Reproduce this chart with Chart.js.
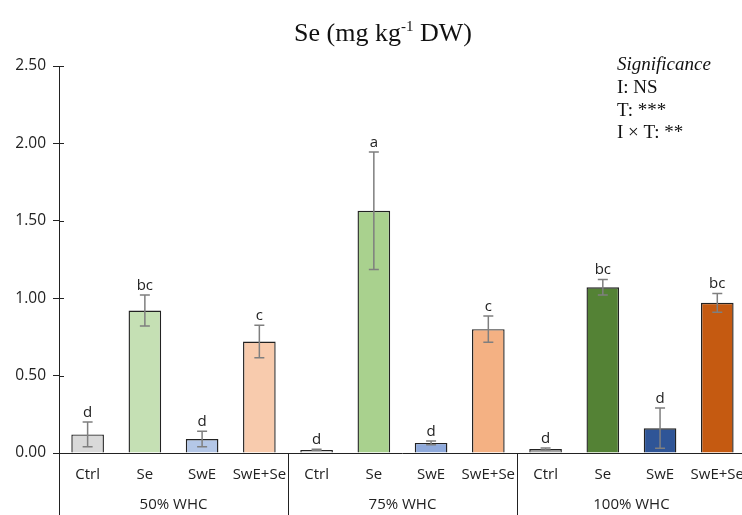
<!DOCTYPE html>
<html>
<head>
<meta charset="utf-8">
<script src="https://cdn.jsdelivr.net/npm/chart.js@4/dist/chart.umd.min.js"></script>
<style>
  html, body { margin: 0; padding: 0; background: #fff; overflow: hidden; }
  #wrap { width: 749px; height: 515px; position: relative; }
</style>
</head>
<body>
<div id="wrap"><canvas id="seChart"></canvas></div>
<script>
const groups = ['50% WHC', '75% WHC', '100% WHC'];
const treatments = ['Ctrl', 'Se', 'SwE', 'SwE+Se'];
const seMeans = [0.12, 0.92, 0.09, 0.72, 0.02, 1.565, 0.065, 0.80, 0.026, 1.07, 0.16, 0.97];
const seErrors = [0.08, 0.10, 0.05, 0.105, 0.004, 0.38, 0.012, 0.085, 0.006, 0.05, 0.13, 0.06];
const letters = ['d', 'bc', 'd', 'c', 'd', 'a', 'd', 'c', 'd', 'bc', 'd', 'bc'];
const yTicks = [0, 0.5, 1, 1.5, 2, 2.5];
const significance = ['I: NS', 'T: ***', 'I \u00d7 T: **'];

const barColors = [
    '#d9d9d9', '#c5e0b4', '#b4c7e7', '#f8cbad',
    '#d0d0d0', '#a9d18e', '#8faadc', '#f4b183',
    '#a6a6a6', '#548235', '#2f5597', '#c55a11',
];

const labels = [];
groups.forEach(() => treatments.forEach(t => labels.push(t)));

const serif = '"Liberation Serif", "Times New Roman", serif';
const sans = '"Open Sans", "Liberation Sans", sans-serif';

const decorations = {
    id: 'decorations',
    afterDatasetsDraw(chart) {
        const { ctx, scales: { x, y } } = chart;
        ctx.save();
        // error bars
        ctx.strokeStyle = '#7f7f7f';
        ctx.lineWidth = 1.5;
        seMeans.forEach((v, i) => {
            const px = x.getPixelForValue(i);
            const top = y.getPixelForValue(v + seErrors[i]);
            const bot = y.getPixelForValue(Math.max(0, v - seErrors[i]));
            ctx.beginPath();
            ctx.moveTo(px, top); ctx.lineTo(px, bot);
            ctx.moveTo(px - 5, top); ctx.lineTo(px + 5, top);
            ctx.moveTo(px - 5, bot); ctx.lineTo(px + 5, bot);
            ctx.stroke();
        });
        // letters
        ctx.fillStyle = '#222';
        ctx.font = '15px ' + sans;
        ctx.textAlign = 'center';
        ctx.textBaseline = 'bottom';
        seMeans.forEach((v, i) => {
            const px = x.getPixelForValue(i);
            const top = y.getPixelForValue(v + seErrors[i]);
            ctx.fillText(letters[i], px, top - 2);
        });
        ctx.restore();
    },
    afterDraw(chart) {
        const { ctx, scales: { x, y }, chartArea } = chart;
        ctx.save();
        const step = x.getPixelForValue(1) - x.getPixelForValue(0);
        // y tick marks crossing the axis
        ctx.strokeStyle = '#222';
        ctx.lineWidth = 1;
        yTicks.forEach(v => {
            const py = Math.round(y.getPixelForValue(v)) + 0.5;
            ctx.beginPath();
            ctx.moveTo(chartArea.left, py);
            ctx.lineTo(chartArea.left + 5, py);
            ctx.stroke();
        });
        // group separators
        for (let g = 0; g <= groups.length; g++) {
            const px = Math.round(x.getPixelForValue(g * treatments.length) - step / 2) + 0.5;
            ctx.beginPath();
            ctx.moveTo(px, chartArea.bottom);
            ctx.lineTo(px, chart.height);
            ctx.stroke();
        }
        // group labels
        ctx.fillStyle = '#222';
        ctx.font = '15px ' + sans;
        ctx.textAlign = 'center';
        ctx.textBaseline = 'middle';
        groups.forEach((g, gi) => {
            const a = x.getPixelForValue(gi * treatments.length);
            const b = x.getPixelForValue(gi * treatments.length + treatments.length - 1);
            ctx.fillText(g, (a + b) / 2, 505);
        });
        // title with superscript
        ctx.fillStyle = '#111';
        ctx.textBaseline = 'alphabetic';
        ctx.textAlign = 'left';
        const big = '26px ' + serif;
        const small = '15px ' + serif;
        const parts = [['Se (mg kg', big, 0], ['-1', small, -10], [' DW)', big, 0]];
        let total = 0;
        parts.forEach(p => { ctx.font = p[1]; total += ctx.measureText(p[0]).width; });
        let tx = 383 - total / 2;
        parts.forEach(p => {
            ctx.font = p[1];
            ctx.fillText(p[0], tx, 41 + p[2]);
            tx += ctx.measureText(p[0]).width;
        });
        // significance box
        ctx.font = 'italic 19px ' + serif;
        ctx.fillText('Significance', 617, 70);
        ctx.font = '19px ' + serif;
        significance.forEach((s, i) => ctx.fillText(s, 617, 93 + i * 22.5));
        ctx.restore();
    },
};

new Chart(document.getElementById('seChart'), {
    type: 'bar',
    data: {
        labels,
        datasets: [{
            data: seMeans,
            backgroundColor: barColors,
            borderColor: '#222',
            borderWidth: 1.4,
            barPercentage: 0.57,
            categoryPercentage: 1,
        }],
    },
    options: {
        responsive: true,
        maintainAspectRatio: false,
        animation: false,
        layout: { padding: { top: 66, right: 0, left: 0, bottom: 0 } },
        plugins: { legend: { display: false }, tooltip: { enabled: false }, title: { display: false } },
        scales: {
            x: {
                grid: { display: false },
                border: { color: '#222', width: 1 },
                ticks: { color: '#222', font: { family: sans, size: 15 }, padding: 5, maxRotation: 0, autoSkip: false },
                afterFit: s => { s.height = 62; },
            },
            y: {
                min: 0,
                max: 2.5,
                afterBuildTicks: s => { s.ticks = yTicks.map(v => ({ value: v })); },
                grid: { display: true, drawOnChartArea: false, tickLength: 6, color: '#222' },
                border: { color: '#222', width: 1 },
                ticks: { color: '#222', font: { family: sans, size: 15.5 }, padding: 7, callback: v => v.toFixed(2) },
                afterFit: s => { s.width = 59; },
            },
        },
    },
    plugins: [decorations],
});
</script>
</body>
</html>
